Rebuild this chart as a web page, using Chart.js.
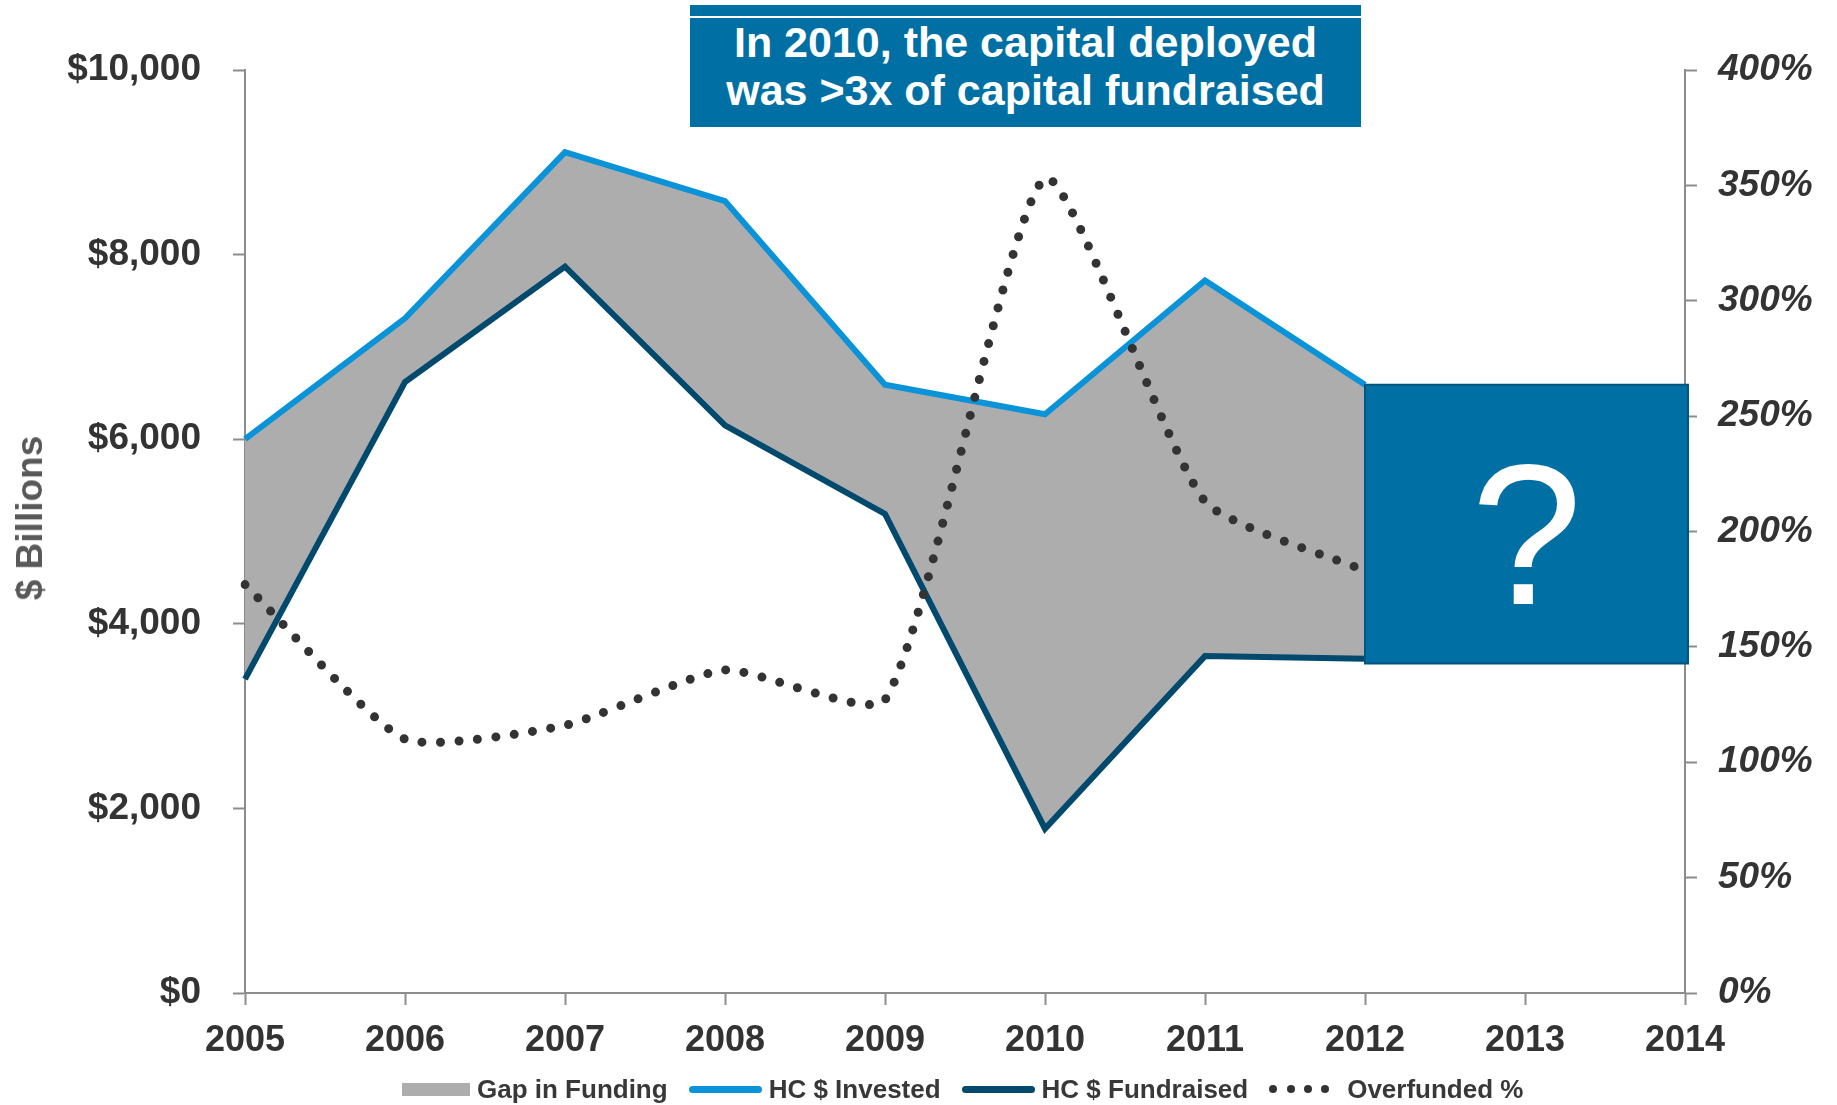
<!DOCTYPE html>
<html>
<head>
<meta charset="utf-8">
<title>Capital deployed vs fundraised</title>
<script src="https://cdn.jsdelivr.net/npm/chart.js@4.4.1/dist/chart.umd.min.js"></script>
<style>
  html, body { margin: 0; padding: 0; background: #fff; }
  body { width: 1837px; height: 1105px; position: relative; overflow: hidden; font-family: 'Liberation Sans', Arial, sans-serif; }
  #wrap { position: absolute; left: 0; top: 0; width: 1837px; height: 1105px; }
  .callout {
    position: absolute; left: 690px; top: 5px; width: 671px; height: 122px;
    background: #006fa3; color: #fff; text-align: center;
    font-weight: bold; font-size: 43px; line-height: 48px;
  }
  .callout .rule { position: absolute; left: 0; right: 0; top: 11px; height: 2px; background: #fff; }
  .callout .txt { position: absolute; left: 0; right: 0; top: 13px; }
  .ytitle {
    position: absolute; left: 30px; top: 518px; transform: translate(-50%, -50%) rotate(-90deg);
    font-weight: bold; font-size: 37px; color: #595959; white-space: nowrap;
  }
  .legend {
    position: absolute; left: 402px; top: 1072px; height: 34px;
    display: flex; align-items: center;
    font-weight: bold; font-size: 26px; color: #383838; white-space: nowrap;
  }
  .legend .item { display: flex; align-items: center; margin-right: 21px; }
  .legend .sw { margin-right: 7px; }
  .sw.area { width: 68px; height: 13px; background: #adadad; }
  .sw.line { width: 73px; height: 7px; border-radius: 4px; }
  .sw.dots { width: 60px; height: 8px; display: flex; justify-content: space-between; margin-right: 18px; }
  .sw.dots i { width: 8px; height: 8px; border-radius: 50%; background: #333; display: block; }
</style>
</head>
<body>
<div id="wrap"><canvas id="gapChart" width="1837" height="1105"></canvas></div>

<div class="callout">
  <div class="rule"></div>
  <div class="txt">In 2010, the capital deployed<br>was &gt;3x of capital fundraised</div>
</div>

<div class="ytitle">$ Billions</div>

<div class="legend">
  <div class="item"><span class="sw area"></span>Gap in Funding</div>
  <div class="item"><span class="sw line" style="background:#0a93d8"></span>HC $ Invested</div>
  <div class="item"><span class="sw line" style="background:#01496d"></span>HC $ Fundraised</div>
  <div class="item"><span class="sw dots"><i></i><i></i><i></i><i></i></span>Overfunded %</div>
</div>

<script>
// Years on the x axis (2013-2014 left open for the outlook box)
const YEARS = ['2005', '2006', '2007', '2008', '2009', '2010', '2011', '2012', '2013', '2014'];

// $ billions
const INVESTED    = [6000, 7310, 9110, 8580, 6590, 6270, 7720, 6590, null, null];
const FUNDRAISED  = [3400, 6620, 7870, 6150, 5190, 1780, 3650, 3620, null, null];
// invested / fundraised, in %
const OVERFUNDED  = [177, 110, 116, 140, 127, 353, 213, 183, null, null];

const LEFT_TICKS  = { min: 0, max: 10000, step: 2000 };
const RIGHT_TICKS = { min: 0, max: 400, step: 50 };

// "?" box over the years with no data yet
const OUTLOOK = { from: '2012', low: 3570, high: 6590 };

const C = {
  invested:   '#0a93d8',
  fundraised: '#01496d',
  gap:        '#adadad',
  dots:       '#333333',
  axis:       '#8c8c8c',
  text:       '#333333',
  box:        '#006fa3',
  boxEdge:    '#00557f',
};

const FONT = "'Liberation Sans', Arial, sans-serif";

const axisBase = (extra = {}) => ({
  grid: { drawOnChartArea: false, drawTicks: true, tickLength: 12, tickColor: C.axis, tickWidth: 2 },
  border: { display: true, color: C.axis, width: 2 },
  ...extra,
});

const fmtDollar = v => '$' + Number(v).toLocaleString('en-US');

// Blue callout box with a question mark, pinned to the chart scales
const outlookBox = {
  id: 'outlookBox',
  afterDatasetsDraw(chart) {
    const { ctx, chartArea, scales } = chart;
    const x0 = scales.x.getPixelForValue(YEARS.indexOf(OUTLOOK.from));
    const x1 = chartArea.right + 3;
    const y0 = scales.y.getPixelForValue(OUTLOOK.high);
    const y1 = scales.y.getPixelForValue(OUTLOOK.low);
    ctx.save();
    ctx.fillStyle = C.box;
    ctx.fillRect(x0, y0, x1 - x0, y1 - y0);
    ctx.strokeStyle = C.boxEdge;
    ctx.lineWidth = 2;
    ctx.strokeRect(x0, y0, x1 - x0, y1 - y0);
    ctx.fillStyle = '#fff';
    ctx.font = `200px ${FONT}`;
    ctx.textAlign = 'center';
    ctx.textBaseline = 'alphabetic';
    ctx.fillText('?', (x0 + x1) / 2, (y0 + y1) / 2 + 80);
    ctx.restore();
  },
};

new Chart(document.getElementById('gapChart'), {
  type: 'line',
  data: {
    labels: YEARS,
    datasets: [
      {
        label: 'HC $ Fundraised',
        data: FUNDRAISED,
        yAxisID: 'y',
        borderColor: C.fundraised,
        borderWidth: 6,
        pointRadius: 0,
        tension: 0,
        order: 2,
      },
      {
        // gray band between the two series
        label: 'Gap in Funding',
        data: INVESTED,
        yAxisID: 'y',
        borderWidth: 0,
        borderColor: 'transparent',
        backgroundColor: C.gap,
        fill: { target: 0 },
        pointRadius: 0,
        tension: 0,
        order: 4,
      },
      {
        label: 'HC $ Invested',
        data: INVESTED,
        yAxisID: 'y',
        borderColor: C.invested,
        borderWidth: 6,
        pointRadius: 0,
        tension: 0,
        order: 1,
      },
      {
        label: 'Overfunded %',
        data: OVERFUNDED,
        yAxisID: 'y2',
        borderColor: C.dots,
        borderWidth: 9,
        borderDash: [0, 18.5],
        borderCapStyle: 'round',
        pointRadius: 0,
        tension: 0.18,
        order: 0,
      },
    ],
  },
  options: {
    responsive: false,
    animation: false,
    layout: { padding: { top: 70, left: 0, right: 0, bottom: 0 } },
    plugins: { legend: { display: false }, tooltip: { enabled: false } },
    scales: {
      x: axisBase({
        offset: false,
        afterFit: s => { s.height = 112; },
        ticks: {
          color: C.text, padding: 14, maxRotation: 0, autoSkip: false,
          font: { family: FONT, size: 36, weight: 'bold' },
        },
      }),
      y: axisBase({
        position: 'left',
        min: LEFT_TICKS.min, max: LEFT_TICKS.max,
        afterFit: s => { s.width = 245; },
        ticks: {
          stepSize: LEFT_TICKS.step, color: C.text, padding: 32,
          font: { family: FONT, size: 37, weight: 'bold' },
          callback: fmtDollar,
        },
      }),
      y2: axisBase({
        position: 'right',
        min: RIGHT_TICKS.min, max: RIGHT_TICKS.max,
        afterFit: s => { s.width = 152; },
        ticks: {
          stepSize: RIGHT_TICKS.step, color: C.text, padding: 21,
          font: { family: FONT, size: 37, weight: 'bold', style: 'italic' },
          callback: v => v + '%',
        },
      }),
    },
  },
  plugins: [outlookBox],
});
</script>
</body>
</html>
